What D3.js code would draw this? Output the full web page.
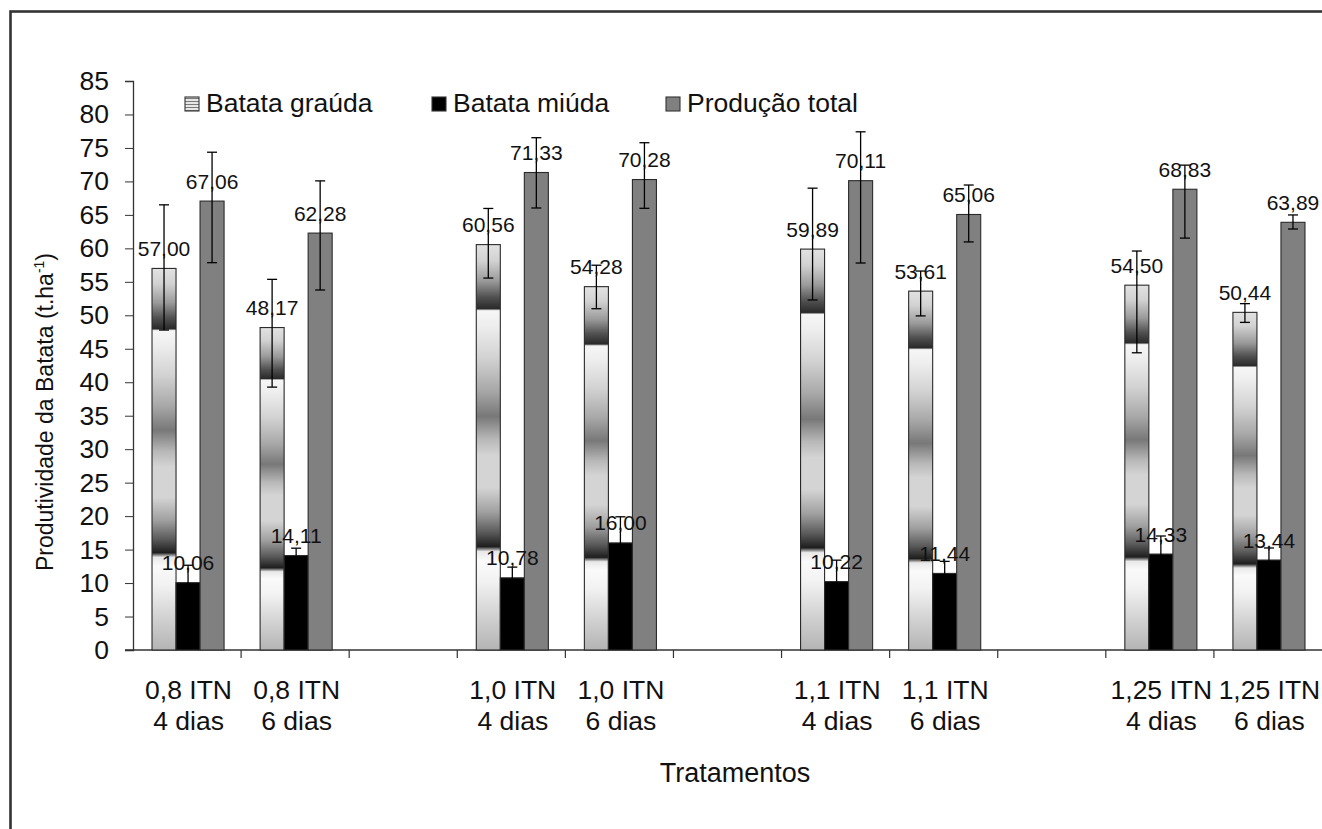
<!DOCTYPE html>
<html>
<head>
<meta charset="utf-8">
<script src="https://cdn.jsdelivr.net/npm/d3@7/dist/d3.min.js"></script>
<style>
  html, body { margin: 0; padding: 0; background: #fff; }
  svg { display: block; }
  text { font-family: "Liberation Sans", Arial, sans-serif; fill: #111; }
</style>
</head>
<body>
<svg id="chart" width="1322" height="829"></svg>
<script>
// ---- data ----
const lines1 = ["0,8 ITN", "0,8 ITN", "", "1,0 ITN", "1,0 ITN", "", "1,1 ITN", "1,1 ITN", "", "1,25 ITN", "1,25 ITN"];
const lines2 = ["4 dias", "6 dias", "", "4 dias", "6 dias", "", "4 dias", "6 dias", "", "4 dias", "6 dias"];
const seriesNames = ["Batata graúda", "Batata miúda", "Produção total"];
const grauda = [57.00, 48.17, null, 60.56, 54.28, null, 59.89, 53.61, null, 54.50, 50.44];
const miuda  = [10.06, 14.11, null, 10.78, 16.00, null, 10.22, 11.44, null, 14.33, 13.44];
const total  = [67.06, 62.28, null, 71.33, 70.28, null, 70.11, 65.06, null, 68.83, 63.89];
const graudaErrUp   = [9.5, 7.2, null, 5.4, 3.2, null, 9.1, 3.0, null, 5.1, 1.3];
const graudaErrDown = [9.2, 8.9, null, 5.0, 3.3, null, 7.6, 3.7, null, 10.1, 1.5];
const miudaErrUp    = [2.6, 1.1, null, 1.6, 3.9, null, 3.2, 1.8, null, 2.7, 1.8];
const miudaErrDown  = [2.6, 1.1, null, 1.6, 3.9, null, 3.2, 1.8, null, 2.7, 1.8];
const totalErrUp    = [7.3, 7.8, null, 5.2, 5.5, null, 7.3, 4.4, null, 3.6, 1.1];
const totalErrDown  = [9.2, 8.5, null, 5.3, 4.3, null, 12.3, 4.1, null, 7.3, 1.0];
const yTicks = d3.range(0, 86, 5);

const svg = d3.select("#chart");

// frame
svg.append("rect").attr("x", 10.5).attr("y", 11.5).attr("width", 1340).attr("height", 850)
  .attr("fill", "#fff").attr("stroke", "#333").attr("stroke-width", 2.6);

const defs = svg.append("defs");
const grad = defs.append("linearGradient").attr("id", "gGrauda")
  .attr("x1", 0).attr("y1", 0).attr("x2", 0).attr("y2", 1);
[[0, "#e2e2e2"], [0.04, "#d2d2d2"], [0.09, "#9a9a9a"], [0.13, "#505050"], [0.158, "#2a2a2a"],
 [0.163, "#f6f6f6"], [0.2, "#eeeeee"], [0.28, "#d2d2d2"], [0.36, "#a8a8a8"], [0.424, "#787878"],
 [0.48, "#b8b8b8"], [0.52, "#d4d4d4"], [0.6, "#d4d4d4"], [0.66, "#a0a0a0"], [0.71, "#5a5a5a"],
 [0.745, "#1e1e1e"], [0.757, "#e8e8e8"], [0.78, "#fafafa"], [0.83, "#f2f2f2"], [0.92, "#d0d0d0"], [1, "#b4b4b4"]]
  .forEach(([o, c]) => grad.append("stop").attr("offset", o).attr("stop-color", c));

const pat = defs.append("pattern").attr("id", "legPat").attr("patternUnits", "userSpaceOnUse")
  .attr("width", 4).attr("height", 3);
pat.append("rect").attr("width", 4).attr("height", 3).attr("fill", "#e6e6e6");
pat.append("rect").attr("y", 2).attr("width", 4).attr("height", 1).attr("fill", "#7a7a7a");

// scales
const x = d3.scaleBand().domain(d3.range(lines1.length)).range([133, 1322]).padding(0);
const inner = d3.scaleBand().domain([0, 1, 2]).range([0, x.bandwidth() * 2 / 3]);
const innerOff = x.bandwidth() / 6 + 1;
const y = d3.scaleLinear().domain([0, 85]).range([650, 81]);

const FS = 26.5;

// y axis
const yAxis = svg.append("g").attr("transform", "translate(133,0)")
  .call(d3.axisLeft(y).tickValues(yTicks).tickSize(8).tickPadding(16).tickFormat(d3.format("d")));
yAxis.select(".domain").attr("stroke", "#333").attr("stroke-width", 1.3);
yAxis.selectAll(".tick line").attr("stroke", "#333");
yAxis.selectAll(".tick text").attr("font-size", FS).attr("fill", "#111")
  .attr("font-family", "Liberation Sans, Arial, sans-serif");

// x axis line and ticks
svg.append("line").attr("x1", 125).attr("x2", 1322).attr("y1", 650).attr("y2", 650)
  .attr("stroke", "#333").attr("stroke-width", 1.3);
svg.selectAll(".xtick").data(d3.range(1, lines1.length)).join("line")
  .attr("x1", d => x(d)).attr("x2", d => x(d)).attr("y1", 650).attr("y2", 658)
  .attr("stroke", "#333").attr("stroke-width", 1.2);

// x labels
const xl = svg.append("g");
lines1.forEach((t, i) => {
  if (!t) return;
  const cx = x(i) + x.bandwidth() / 2 + 1.5;
  xl.append("text").attr("x", cx).attr("y", 699).attr("text-anchor", "middle").attr("font-size", FS).text(t);
  xl.append("text").attr("x", cx).attr("y", 730).attr("text-anchor", "middle").attr("font-size", FS).text(lines2[i]);
});

// bars
const series = [
  { vals: grauda, up: graudaErrUp, down: graudaErrDown, fill: "url(#gGrauda)" },
  { vals: miuda, up: miudaErrUp, down: miudaErrDown, fill: "#000" },
  { vals: total, up: totalErrUp, down: totalErrDown, fill: "#808080" }
];
const fmt = v => v.toFixed(2).replace(".", ",");

series.forEach((s, si) => {
  const g = svg.append("g");
  s.vals.forEach((v, i) => {
    if (v == null) return;
    const bx = x(i) + innerOff + inner(si);
    g.append("rect").attr("x", bx).attr("y", y(v)).attr("width", inner.bandwidth()).attr("height", y(0) - y(v))
      .attr("fill", s.fill).attr("stroke", "#2a2a2a").attr("stroke-width", 1.1);
  });
});

// error bars
series.forEach((s, si) => {
  const g = svg.append("g").attr("stroke", "#000").attr("stroke-width", 1.3);
  s.vals.forEach((v, i) => {
    if (v == null) return;
    const cx = x(i) + innerOff + inner(si) + inner.bandwidth() / 2;
    const hi = y(v + s.up[i]), lo = y(v - s.down[i]);
    g.append("line").attr("x1", cx).attr("x2", cx).attr("y1", hi).attr("y2", lo);
    g.append("line").attr("x1", cx - 5).attr("x2", cx + 5).attr("y1", hi).attr("y2", hi);
    g.append("line").attr("x1", cx - 5).attr("x2", cx + 5).attr("y1", lo).attr("y2", lo);
  });
});

// data labels
series.forEach((s, si) => {
  s.vals.forEach((v, i) => {
    if (v == null) return;
    const cx = x(i) + innerOff + inner(si) + inner.bandwidth() / 2;
    svg.append("text").attr("x", cx).attr("y", y(v) - 12.5).attr("text-anchor", "middle")
      .attr("font-size", 21).attr("fill", "#1a1a1a").text(fmt(v));
  });
});

// legend
const legend = [
  { name: seriesNames[0], x: 185, fill: "url(#legPat)" },
  { name: seriesNames[1], x: 432, fill: "#000" },
  { name: seriesNames[2], x: 666, fill: "#808080" }
];
legend.forEach(l => {
  svg.append("rect").attr("x", l.x).attr("y", 97).attr("width", 14).attr("height", 14)
    .attr("fill", l.fill).attr("stroke", "#333").attr("stroke-width", 1.1);
  svg.append("text").attr("x", l.x + 21).attr("y", 112).attr("font-size", FS).text(l.name);
});

// axis titles
svg.append("text").attr("x", 735).attr("y", 782).attr("text-anchor", "middle").attr("font-size", 27).text("Tratamentos");
const yt = svg.append("text").attr("transform", "translate(53,412) rotate(-90)").attr("text-anchor", "middle")
  .attr("font-size", 23);
yt.append("tspan").text("Produtividade da Batata (t.ha");
yt.append("tspan").attr("font-size", 14).attr("dy", -9).text("-1");
yt.append("tspan").attr("dy", 9).text(")");
</script>
</body>
</html>
